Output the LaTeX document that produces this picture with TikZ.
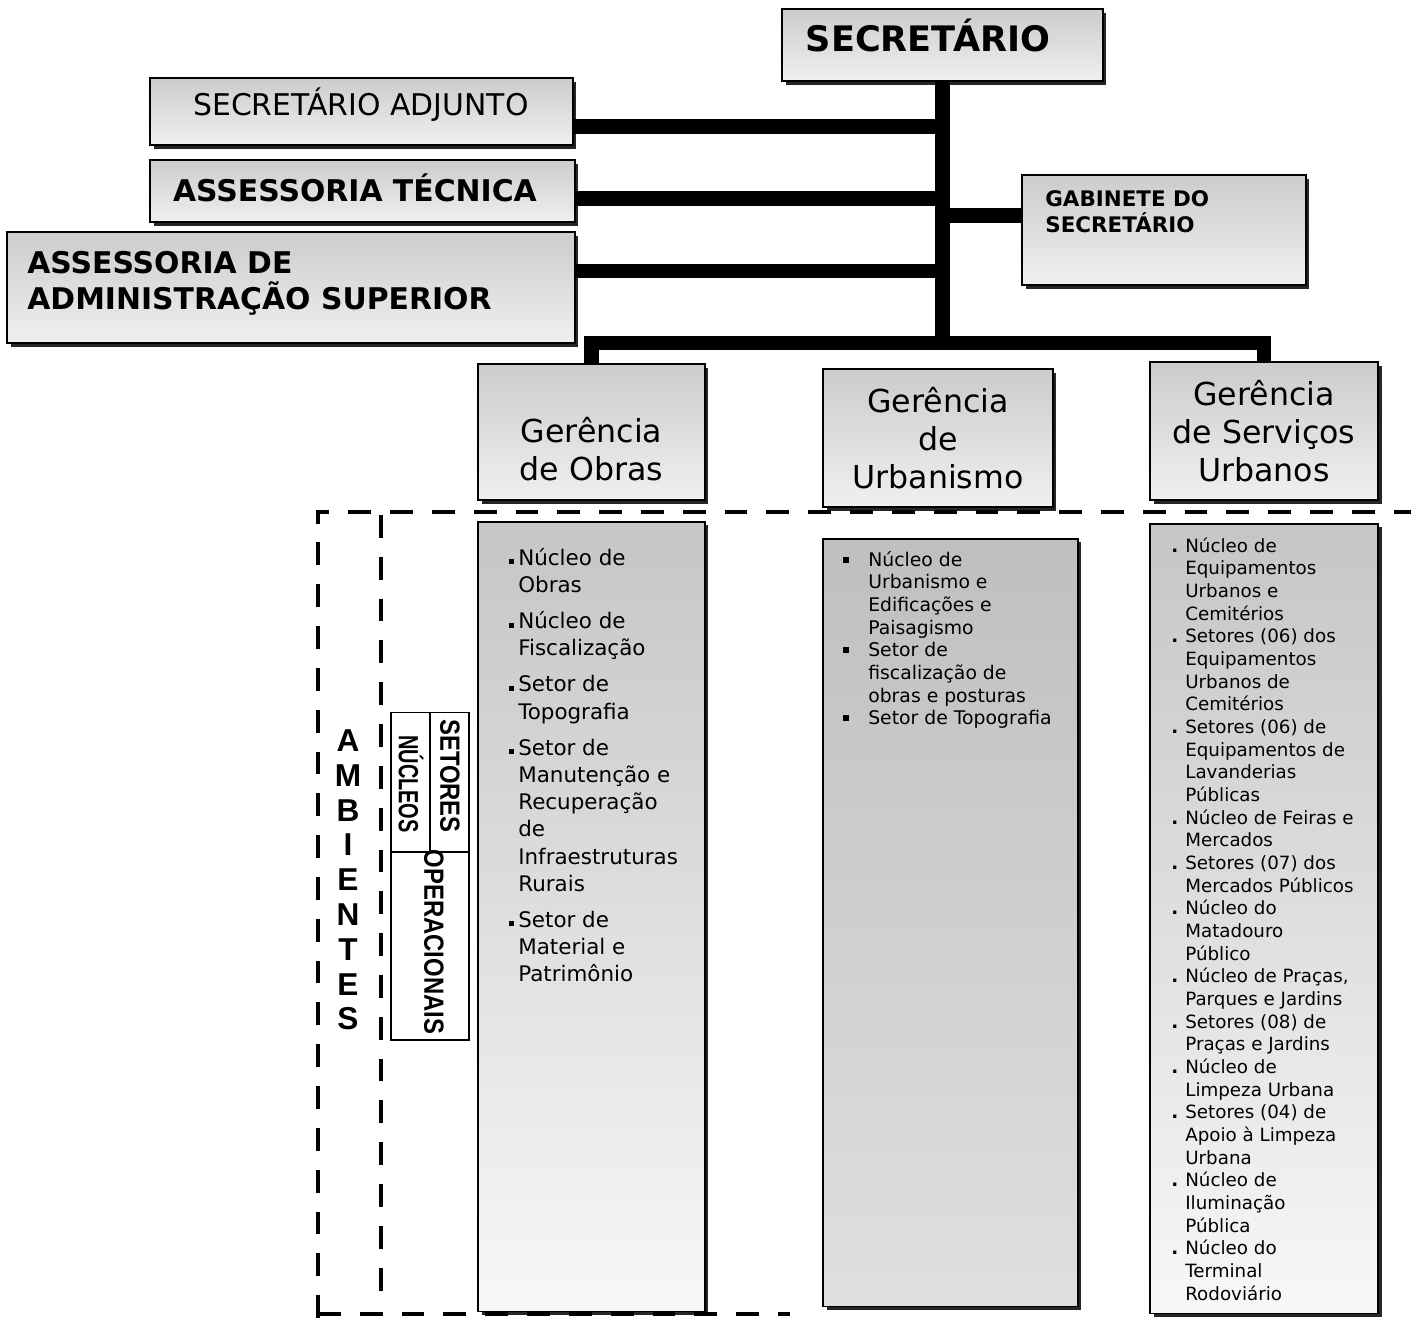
\documentclass[tikz,border=0pt]{standalone}
\usepackage{fontspec}
\setmainfont{DejaVu Sans}
\newfontfamily\arialfont{Liberation Sans}
\usepackage{graphicx}
\usepackage{tikz}
\usetikzlibrary{positioning, shadows}
\newcommand{\marcaObras}{\rule[0.6pt]{2.8pt}{2.8pt}}
\newcommand{\marcaUrb}{\rule[2pt]{3.4pt}{3.4pt}}
\newcommand{\marcaServ}{\textbf{.}}
\tikzset{
  caixa/.style={rectangle, draw=black, line width=1pt, top color=gray!40, bottom color=gray!12, inner sep=0pt, drop shadow={shadow xshift=2pt, shadow yshift=-2pt, fill=black!85, opacity=1}},
  gerencia/.style={caixa, minimum width=4.56cm, minimum height=2.76cm, align=center, font=\fontsize{18}{21.5}\selectfont},
  lista/.style={caixa, top color=gray!45, bottom color=gray!6},
  texto/.style={inner sep=0pt},
  quadro/.style={rectangle, draw=black, line width=0.6pt, fill=white, inner sep=0pt},
  vertical/.style={texto, rotate=-90, font=\arialfont\bfseries\fontsize{15.8}{16}\selectfont},
  conector/.style={line width=8.5pt},
  tracejado/.style={line width=2.8pt, dash pattern=on 13pt off 10.8pt},
  fino/.style={line width=0.6pt}
}

\begin{document}
\begin{tikzpicture}[x=0.02cm, y=-0.02cm]
        \useasboundingbox (0,0) rectangle (1411,1318);

        % Bloco 1: Secretario e assessorias
        \node (secretario) [caixa, minimum width=6.42cm, minimum height=1.44cm] at (942.5,45) {};
        \node (secretariotxt) [texto, anchor=base, font=\bfseries\fontsize{20}{24}\selectfont] at (928,52) {SECRETÁRIO};
        \node (adjunto) [caixa, minimum width=8.46cm, minimum height=1.34cm] at (361.5,111.5) {};
        \node (adjuntotxt) [texto, anchor=base, font=\fontsize{17}{20}\selectfont] at (361,116) {SECRETÁRIO ADJUNTO};
        \node (tecnica) [caixa, minimum width=8.5cm, minimum height=1.24cm] at (362.5,191) {};
        \node (tecnicatxt) [texto, anchor=base, font=\bfseries\fontsize{17}{20}\selectfont] at (355,201) {ASSESSORIA TÉCNICA};
        \node (adminsup) [caixa, minimum width=11.36cm, minimum height=2.22cm] at (291,287.5) {};
        \node (adminsuptxt) [texto, anchor=north west, align=left, font=\bfseries\fontsize{17}{20.4}\selectfont] at (27,251) {ASSESSORIA DE\\ADMINISTRAÇÃO SUPERIOR};
        \node (gabinete) [caixa, minimum width=5.68cm, minimum height=2.2cm] at (1164,230) {};
        \node (gabinetetxt) [texto, anchor=north west, align=left, font=\bfseries\fontsize{12.2}{14.7}\selectfont] at (1045,190) {GABINETE DO\\SECRETÁRIO};

        % Bloco 2: Gerencias
        \node (obras) [gerencia, minimum width=4.54cm, minimum height=2.72cm] at (591.5,432) {};
        \node (obrastxt) [texto, align=center, font=\fontsize{18}{21.5}\selectfont, yshift=-9.6pt] at (obras.center) {Gerência\\de Obras};
        \node (urbanismo) [gerencia, minimum width=4.6cm] at (938,438) {Gerência\\de\\Urbanismo};
        \node (servicos) [gerencia] at (1264,431) {Gerência\\de Serviços\\Urbanos};

        % Bloco 3: Nucleos e setores
        \node (listaobras) [lista, minimum width=4.54cm, minimum height=15.8cm, below=0.4cm of obras] {};
        \node (listaurb) [lista, top color=gray!50, bottom color=gray!25, minimum width=5.1cm, minimum height=15.36cm, below=0.6cm of urbanismo, xshift=0.25cm] {};
        \node (listaserv) [lista, minimum width=4.56cm, minimum height=15.8cm, below=0.44cm of servicos] {};

        \node (listaobrastxt) [texto, anchor=north west, font=\fontsize{12.2}{15.5}\selectfont] at (509,546) {%
          \begin{tabular}{@{}l@{\hspace{2.3pt}}l@{}}
            \marcaObras & Núcleo de\\
                        & Obras\\[5pt]
            \marcaObras & Núcleo de\\
                        & Fiscalização\\[5pt]
            \marcaObras & Setor de\\
                        & Topografia\\[5pt]
            \marcaObras & Setor de\\
                        & Manutenção e\\
                        & Recuperação\\
                        & de\\
                        & Infraestruturas\\
                        & Rurais\\[5pt]
            \marcaObras & Setor de\\
                        & Material e\\
                        & Patrimônio
          \end{tabular}};
        \node (listaurbtxt) [texto, anchor=north west, font=\fontsize{10.7}{12.9}\selectfont] at (843,550) {%
          \begin{tabular}{@{}l@{\hspace{10.8pt}}l@{}}
            \marcaUrb & Núcleo de\\
                      & Urbanismo e\\
                      & Edificações e\\
                      & Paisagismo\\
            \marcaUrb & Setor de\\
                      & fiscalização de\\
                      & obras e posturas\\
            \marcaUrb & Setor de Topografia
          \end{tabular}};
        \node (listaservtxt) [texto, anchor=north west, font=\fontsize{10.4}{12.9}\selectfont] at (1171,536) {%
          \begin{tabular}{@{}l@{\hspace{4pt}}l@{}}
            \marcaServ & Núcleo de\\
                       & Equipamentos\\
                       & Urbanos e\\
                       & Cemitérios\\
            \marcaServ & Setores (06) dos\\
                       & Equipamentos\\
                       & Urbanos de\\
                       & Cemitérios\\
            \marcaServ & Setores (06) de\\
                       & Equipamentos de\\
                       & Lavanderias\\
                       & Públicas\\
            \marcaServ & Núcleo de Feiras e\\
                       & Mercados\\
            \marcaServ & Setores (07) dos\\
                       & Mercados Públicos\\
            \marcaServ & Núcleo do\\
                       & Matadouro\\
                       & Público\\
            \marcaServ & Núcleo de Praças,\\
                       & Parques e Jardins\\
            \marcaServ & Setores (08) de\\
                       & Praças e Jardins\\
            \marcaServ & Núcleo de\\
                       & Limpeza Urbana\\
            \marcaServ & Setores (04) de\\
                       & Apoio à Limpeza\\
                       & Urbana\\
            \marcaServ & Núcleo de\\
                       & Iluminação\\
                       & Pública\\
            \marcaServ & Núcleo do\\
                       & Terminal\\
                       & Rodoviário
          \end{tabular}};

        % Bloco 4: Ambientes
        \node (ambientes) [texto, align=center, font=\arialfont\bfseries\fontsize{18}{19.8}\selectfont] at (348,880) {A\\M\\B\\I\\E\\N\\T\\E\\S};
        \node (quadro) [quadro, minimum width=1.56cm, minimum height=6.56cm] at (430,876) {};
        \coordinate (divisao) at (430,852);
        \draw[fino] (quadro.north) -- (quadro.north |- divisao);
        \draw[fino] (quadro.west |- divisao) -- (quadro.east |- divisao);
        \node (nucleos) [vertical] at (411,784) {\scalebox{0.72}[1]{NÚCLEOS}};
        \node (setores) [vertical] at (450,776) {\scalebox{0.86}[1]{SETORES}};
        \node (operacionais) [vertical] at (434,942) {\scalebox{0.86}[1]{OPERACIONAIS}};

        % Linhas tracejadas
        \draw[tracejado] (318,1318) -- (318,512) -- (1411,512);
        \draw[tracejado] (381,515) -- (381,1300);
        \draw[tracejado] (318,1314) -- (790,1314);

        % Conectores
        \coordinate (juncao) at (944,343);
        \draw[conector] (secretario.south) -- (secretario.south |- juncao);
        \draw[conector] ([yshift=-8.8pt]adjunto.east) -- ([yshift=-8.8pt]adjunto.east -| secretario.south);
        \draw[conector] ([yshift=-4.5pt]tecnica.east) -- ([yshift=-4.5pt]tecnica.east -| secretario.south);
        \draw[conector] ([yshift=9.4pt]adminsup.east) -- ([yshift=9.4pt]adminsup.east -| secretario.south);
        \draw[conector] ([yshift=8.5pt]gabinete.west) -- ([yshift=8.5pt]gabinete.west -| secretario.south);
        \draw[conector] (obras.north) -- (obras.north |- juncao) -- (servicos.north |- juncao) -- (servicos.north);
\end{tikzpicture}
\end{document}
